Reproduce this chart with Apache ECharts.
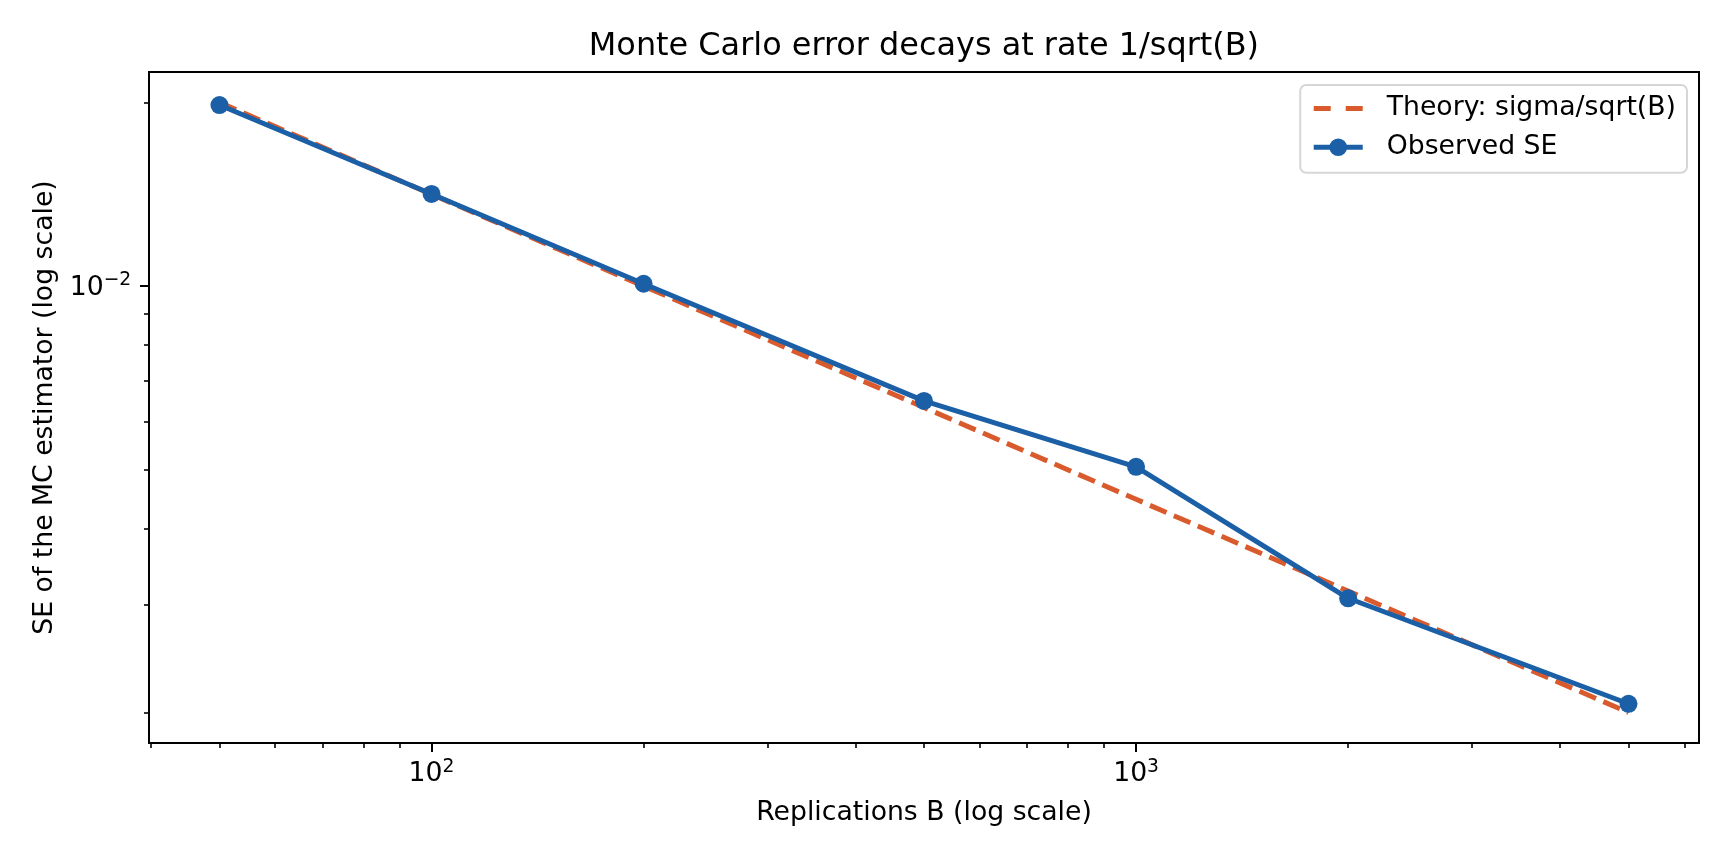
<!DOCTYPE html>
<html>
	<head>
		<meta charset="utf-8">
		<title>Monte Carlo error</title>
		<script src="https://cdn.jsdelivr.net/npm/echarts@6/dist/echarts.min.js" type="text/javascript" charset="utf-8"></script>
		<style>
			html,body{margin:0;padding:0;background:#fff;}
			#chartBox{width:1728px;height:864px;}
		</style>
	</head>
	<body>
		<div id="chartBox"></div>
		<script type="text/javascript">
			// 数据
			var replications = [50, 100, 200, 500, 1000, 2000, 5000];
			var theorySE = [0.02, 0.014142, 0.01, 0.0063246, 0.0044721, 0.0031623, 0.002];
			var observedSE = [0.01981, 0.01416, 0.01009, 0.006484, 0.005055, 0.003078, 0.002067];
			var xMajorTicks = [100, 1000];
			var xMinorTicks = [40, 50, 60, 70, 80, 90, 200, 300, 400, 500, 600, 700, 800, 900, 2000, 3000, 4000, 5000, 6000];
			var yMajorTicks = [0.01];
			var yMinorTicks = [0.002, 0.003, 0.004, 0.005, 0.006, 0.007, 0.008, 0.009, 0.02];
			var xRange = [39.716, 6295.1];
			var yRange = [0.0017825, 0.02244];

			var font = 'DejaVu Sans';
			var fs = 26.7;
			var blue = '#1b5fa6', orange = '#d95b2d';

			function pairs(xs, ys){
				var out = [];
				for(var i = 0; i < xs.length; i++){
					out.push([xs[i], ys[i]]);
				}
				return out;
			}
			//10的幂标签
			function powLabel(v){
				var e = Math.round(Math.log(v) / Math.LN10);
				return '{b|10}{sup|' + (e < 0 ? '\u2212' + (-e) : e) + '}';
			}
			var richSup = {
				b: {fontFamily: font, fontSize: fs, color: '#000', padding: [3, 0, 0, 0]},
				sup: {fontFamily: font, fontSize: 18.7, color: '#000', verticalAlign: 'top'}
			};

			function majorAxis(dim){
				var isX = dim == 'x';
				return {
					type: 'log',
					logBase: 10,
					position: isX ? 'bottom' : 'left',
					min: isX ? xRange[0] : yRange[0],
					max: isX ? xRange[1] : yRange[1],
					name: isX ? 'Replications B (log scale)' : 'SE of the MC estimator (log scale)',
					nameLocation: 'middle',
					nameGap: isX ? 57 : 90,
					nameTextStyle: {fontFamily: font, fontSize: fs, color: '#000'},
					axisLine: {show: false},
					splitLine: {show: false},
					minorTick: {show: false},
					axisTick: {
						show: true,
						inside: false,
						length: 9,
						customValues: isX ? xMajorTicks : yMajorTicks,
						lineStyle: {color: '#000', width: 2}
					},
					axisLabel: {
						show: true,
						margin: isX ? 15 : 17.8,
						customValues: isX ? xMajorTicks : yMajorTicks,
						formatter: powLabel,
						rich: richSup
					}
				};
			}
			function minorAxis(dim){
				var isX = dim == 'x';
				return {
					type: 'log',
					logBase: 10,
					position: isX ? 'bottom' : 'left',
					min: isX ? xRange[0] : yRange[0],
					max: isX ? xRange[1] : yRange[1],
					axisLine: {show: false},
					splitLine: {show: false},
					axisLabel: {show: false},
					axisTick: {
						show: true,
						inside: false,
						length: 5,
						customValues: isX ? xMinorTicks : yMinorTicks,
						lineStyle: {color: '#000', width: 1.6}
					}
				};
			}

			var myChart = echarts.init(document.getElementById('chartBox'), null, {renderer: 'canvas'});
			var option = {
				animation: false,
				backgroundColor: '#fff',
				title: {
					text: 'Monte Carlo error decays at rate 1/sqrt(B)',
					left: '53.18%',
					textAlign: 'center',
					top: 26,
					textStyle: {fontFamily: font, fontSize: 31.9, fontWeight: 'normal', color: '#000'}
				},
				legend: {
					orient: 'vertical',
					right: 41,
					top: 85,
					padding: [10, 11, 12, 11],
					itemGap: 11.7,
					itemWidth: 49,
					itemHeight: 22,
					borderColor: '#d6d6d6',
					borderWidth: 2,
					borderRadius: 6,
					backgroundColor: 'rgba(255,255,255,0.8)',
					textStyle: {fontFamily: font, fontSize: fs, color: '#000', padding: [0, 0, 0, 19]},
					data: [
						{name: 'Theory: sigma/sqrt(B)', lineStyle: {color: orange, width: 5, type: [17, 15]}, itemStyle: {opacity: 0}},
						{name: 'Observed SE', lineStyle: {color: blue, width: 5}, itemStyle: {color: blue}}
					]
				},
				grid: {
					left: 149,
					top: 72,
					width: 1550,
					height: 671,
					containLabel: false,
					show: true,
					borderColor: '#000',
					borderWidth: 2,
					backgroundColor: 'transparent'
				},
				xAxis: [majorAxis('x'), minorAxis('x')],
				yAxis: [majorAxis('y'), minorAxis('y')],
				series: [
					{
						name: 'Theory: sigma/sqrt(B)',
						type: 'line',
						xAxisIndex: 0,
						yAxisIndex: 0,
						data: pairs(replications, theorySE),
						symbol: 'none',
						color: orange,
						lineStyle: {color: orange, width: 5, type: [18, 8]},
						z: 2
					},
					{
						name: 'Observed SE',
						type: 'line',
						xAxisIndex: 0,
						yAxisIndex: 0,
						data: pairs(replications, observedSE),
						symbol: 'circle',
						symbolSize: 18,
						color: blue,
						itemStyle: {color: blue},
						lineStyle: {color: blue, width: 5},
						z: 3
					}
				]
			};
			myChart.setOption(option);
		</script>
	</body>
</html>
